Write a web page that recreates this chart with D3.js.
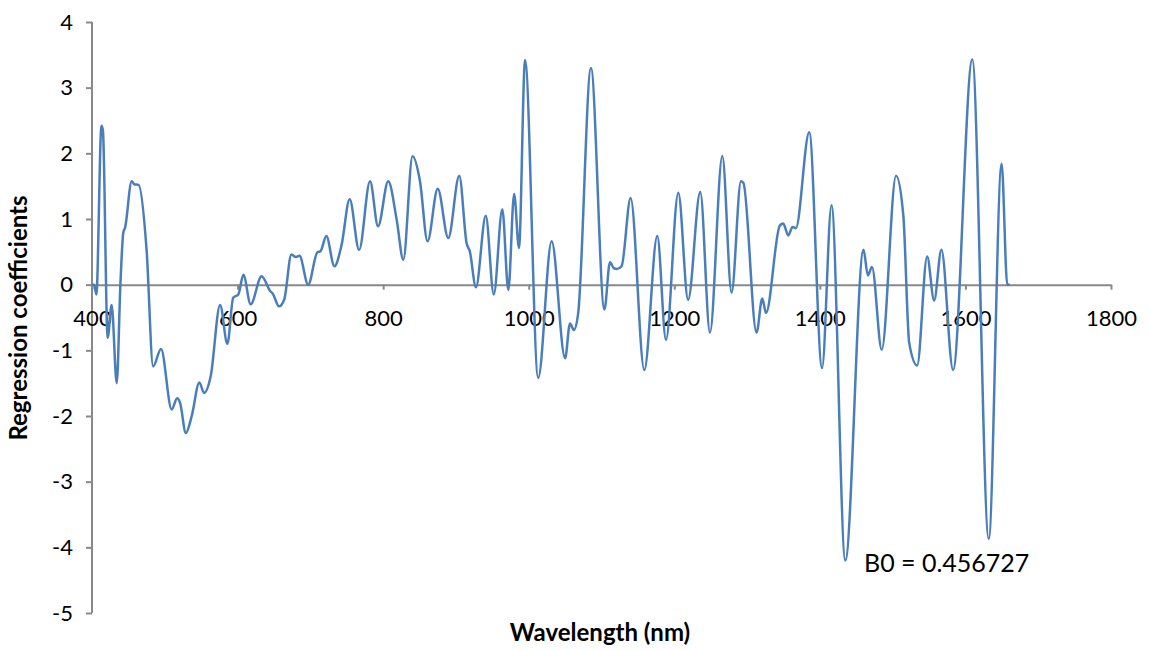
<!DOCTYPE html>
<html>
<head>
<meta charset="utf-8">
<script src="https://cdn.jsdelivr.net/npm/d3@7"></script>
<style>
  body { margin: 0; background: #fff; }
  svg { display: block; font-family: Lato, "Open Sans", sans-serif; }
</style>
</head>
<body>
<div id="chart"></div>
<script>
// wavelength (nm) and regression coefficient
var wavelength = [400, 403, 406, 413, 415, 421.5, 427, 434, 439, 443, 445.5, 454.5, 458, 464, 475, 484, 494.8,
  509.5, 517, 521, 529, 537, 547.5, 554, 563, 576, 586, 594, 601, 608, 618, 633, 645, 648, 657, 664,
  674, 680, 685, 697, 709.5, 714, 722, 733, 743, 754, 767, 782, 793, 807, 818.6, 827.7, 840.4, 850.6,
  861, 875, 889.5, 904.6, 914.7, 919, 927.5, 941, 952, 963.7, 972, 980, 986.6, 995, 1013, 1031.5,
  1050, 1056.7, 1062, 1068, 1085.5, 1104, 1111.6, 1117, 1121, 1127.6, 1140, 1158.8, 1176.6, 1188.6,
  1205.5, 1219, 1235.7, 1249, 1266, 1278.7, 1291.6, 1295, 1313, 1320.9, 1326, 1345, 1349.7, 1356.6,
  1362.5, 1367, 1385.4, 1403, 1416, 1435, 1460, 1466, 1471.6, 1485, 1504.7, 1514.7, 1522.8, 1533.7,
  1547.4, 1557, 1567, 1583, 1609.4, 1632, 1649.7, 1657.5, 1661];
var coefficient = [0, 0, -0.15, 2.42, 2.35, -0.81, -0.31, -1.5, 0, 0.79, 0.87, 1.575, 1.53, 1.52, 0.53, -1.245, -0.98,
  -1.9, -1.73, -1.8, -2.26, -2.0, -1.49, -1.65, -1.4, -0.31, -0.9, -0.2, -0.15, 0.15, -0.3, 0.13, -0.1, -0.13, -0.33, -0.23,
  0.46, 0.42, 0.44, 0.0, 0.49, 0.51, 0.74, 0.28, 0.61, 1.3, 0.53, 1.575, 0.89, 1.575, 0.99, 0.38, 1.955, 1.575,
  0.66, 1.46, 0.71, 1.66, 0.63, 0.51, -0.04, 1.05, -0.15, 1.15, -0.08, 1.38, 0.56, 3.42, -1.42, 0.66,
  -1.12, -0.59, -0.69, -0.43, 3.30, -0.38, 0.34, 0.25, 0.24, 0.28, 1.32, -1.3, 0.74, -0.84,
  1.40, -0.23, 1.41, -0.73, 1.96, -0.12, 1.575, 1.55, -0.73, -0.21, -0.43, 0.9, 0.93, 0.75,
  0.88, 0.86, 2.32, -1.27, 1.21, -4.2, 0.53, 0.14, 0.27, -0.99, 1.66, 1.05, -0.89, -1.23,
  0.43, -0.24, 0.53, -1.3, 3.43, -3.87, 1.84, 0, 0];
var xTicks = [400, 600, 800, 1000, 1200, 1400, 1600, 1800];
var yTicks = [-5, -4, -3, -2, -1, 0, 1, 2, 3, 4];
var b0Label = "B0 = 0.456727";

var width = 1149, height = 650;

var svg = d3.select("#chart").append("svg")
  .attr("width", width)
  .attr("height", height);

var x = d3.scaleLinear().domain([400, 1800]).range([92, 1111]);
var y = d3.scaleLinear().domain([-5, 4]).range([613, 22]);

var points = wavelength.map(function(w, i) { return [w, coefficient[i]]; });
var plain = function(d) { return String(d); };

// y axis
var yAxis = svg.append("g")
  .attr("transform", "translate(" + x(400) + ",0)")
  .call(d3.axisLeft(y).tickValues(yTicks).tickSize(6).tickPadding(13).tickFormat(plain));

// x axis, crossing at 0
var xAxis = svg.append("g")
  .attr("transform", "translate(0," + y(0) + ")")
  .call(d3.axisBottom(x).tickValues(xTicks).tickSize(5).tickPadding(21).tickSizeOuter(0).tickFormat(plain));

yAxis.select(".domain").attr("d", "M0," + y(-5) + "V" + y(4));
[xAxis, yAxis].forEach(function(a) {
  a.selectAll(".domain, .tick line").attr("stroke", "#898989").attr("stroke-width", 2);
  a.selectAll("text").attr("fill", "#000").style("font-size", "22px").style("font-family", "Lato, sans-serif");
});

svg.append("path")
  .datum(points)
  .attr("fill", "none")
  .attr("stroke", "#4a7ebb")
  .attr("stroke-width", 2.5)
  .attr("stroke-linejoin", "round")
  .attr("d", d3.line()
    .x(function(d) { return x(d[0]); })
    .y(function(d) { return y(d[1]); })
    .curve(d3.curveMonotoneX));

// axis titles
svg.append("text")
  .attr("x", 600).attr("y", 641)
  .attr("text-anchor", "middle")
  .style("font-size", "24px").style("font-weight", "bold")
  .text("Wavelength (nm)");

svg.append("text")
  .attr("transform", "translate(27,318) rotate(-90)")
  .attr("text-anchor", "middle")
  .style("font-size", "24px").style("font-weight", "bold")
  .text("Regression coefficients");

svg.append("text")
  .attr("x", 864).attr("y", 572)
  .style("font-size", "25px")
  .text(b0Label);
</script>
</body>
</html>
